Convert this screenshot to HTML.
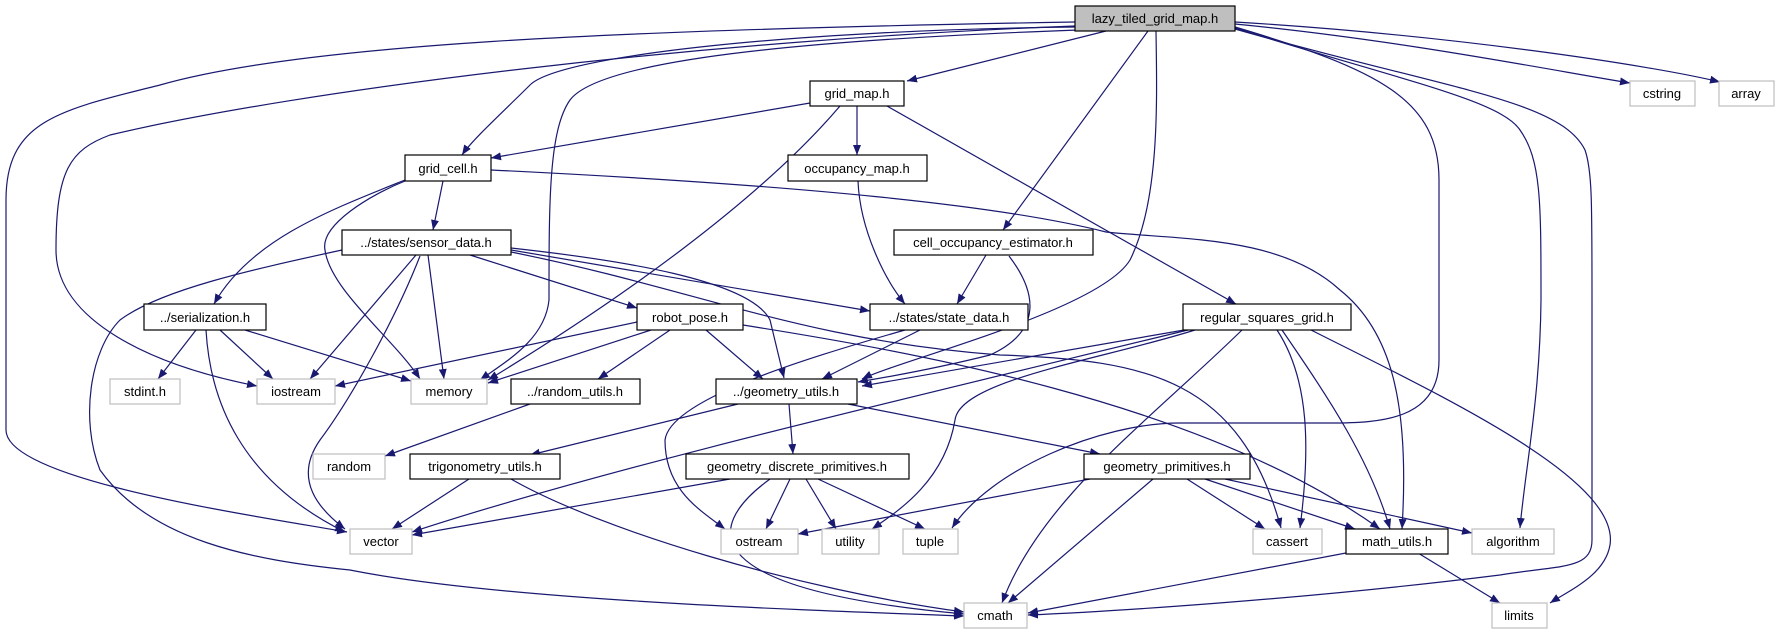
<!DOCTYPE html>
<html><head><meta charset="utf-8"><style>
html,body{margin:0;padding:0;background:#fff;}
svg{display:block;}
text{font-family:"Liberation Sans","DejaVu Sans",sans-serif;font-size:13px;fill:#000;}
.e{fill:none;stroke:#191970;stroke-width:1.2;marker-end:url(#a);}
.n{fill:#fff;stroke:#000;stroke-width:1.2;}
.g{fill:#fff;stroke:#bfbfbf;stroke-width:1.2;}
</style></head><body>
<svg width="1778" height="635" viewBox="0 0 1778 635" xmlns="http://www.w3.org/2000/svg">
<defs><marker id="a" markerWidth="10" markerHeight="8" refX="10" refY="4" orient="auto" markerUnits="userSpaceOnUse"><path d="M0,0 L10,4 L0,8 z" fill="#191970"/></marker></defs>
<g>
<path class="e" d="M1075,22 C600,30 300,45 160,85 C60,110 6,120 6,200 L6,430 C6,480 250,515 347,532"/>
<path class="e" d="M1075,26 C700,40 300,90 110,135 C70,150 56,170 56,250 C56,320 150,365 257,386"/>
<path class="e" d="M1075,27 C800,30 560,55 530,85 C505,110 472,140 462,155"/>
<path class="e" d="M1078,30 C800,40 600,60 570,100 C549,130 549,200 549,300 C545,340 505,362 480,380"/>
<path class="e" d="M1106,31 L907,81"/>
<path class="e" d="M1148,31 L1003,230"/>
<path class="e" d="M1156,31 C1157,100 1160,200 1130,260 C1100,310 900,360 862,379"/>
<path class="e" d="M1235,24 C1400,40 1550,70 1630,83"/>
<path class="e" d="M1235,22 C1450,35 1650,65 1720,82"/>
<path class="e" d="M1235,27 C1380,70 1439,100 1439,180 L1439,360 C1439,420 1380,423 1330,423 L1180,423 C1100,423 990,470 952,528"/>
<path class="e" d="M1235,28 C1400,80 1500,100 1520,130 C1541,160 1541,200 1541,300 C1540,400 1525,470 1520,528"/>
<path class="e" d="M1235,29 C1450,90 1560,100 1585,150 C1592,170 1592,200 1592,300 L1592,540 C1592,570 1560,565 1500,575 C1300,600 1100,612 1028,615"/>
<path class="e" d="M491,170 C800,185 1000,205 1106,232 C1180,240 1280,235 1340,290 C1390,330 1410,400 1402,529"/>
<path class="e" d="M810,103 L491,158"/>
<path class="e" d="M857,106 L857,155"/>
<path class="e" d="M840,106 C760,200 620,300 488,380"/>
<path class="e" d="M887,106 L1236,304"/>
<path class="e" d="M443,181 L433,230"/>
<path class="e" d="M405,180 C330,210 250,240 214,304"/>
<path class="e" d="M405,181 C370,195 320,225 325,250 C330,290 395,340 420,379"/>
<path class="e" d="M858,181 C860,230 885,280 905,304"/>
<path class="e" d="M986,255 L957,304"/>
<path class="e" d="M1009,256 C1035,290 1045,330 990,355 C950,365 900,375 858,382"/>
<path class="e" d="M342,250 C250,270 160,290 120,320 C90,350 80,420 100,470 C150,540 250,560 350,570 C500,600 800,610 964,616"/>
<path class="e" d="M416,255 L310,379"/>
<path class="e" d="M428,255 L444,379"/>
<path class="e" d="M420,256 C395,320 350,400 320,440 C292,480 320,510 345,529"/>
<path class="e" d="M470,255 L637,308"/>
<path class="e" d="M511,250 L870,311"/>
<path class="e" d="M511,248 C620,260 750,280 770,320 L784,378"/>
<path class="e" d="M511,252 C700,290 800,340 1000,355 C1150,360 1240,380 1281,528"/>
<path class="e" d="M196,330 L158,379"/>
<path class="e" d="M220,330 L273,379"/>
<path class="e" d="M245,330 L411,381"/>
<path class="e" d="M206,330 C210,400 240,480 345,532"/>
<path class="e" d="M637,322 L335,386"/>
<path class="e" d="M651,330 L488,383"/>
<path class="e" d="M670,330 L598,379"/>
<path class="e" d="M706,330 L763,379"/>
<path class="e" d="M743,325 C900,350 1200,400 1380,529"/>
<path class="e" d="M920,330 L822,379"/>
<path class="e" d="M905,330 C800,360 670,400 665,440 C665,490 700,510 725,529"/>
<path class="e" d="M1190,329 L862,386"/>
<path class="e" d="M1188,330 C900,400 600,470 412,532"/>
<path class="e" d="M1195,330 C1100,360 960,380 955,420 C945,480 900,510 872,529"/>
<path class="e" d="M1242,330 C1150,420 1040,500 1002,603"/>
<path class="e" d="M1277,330 C1310,380 1310,450 1300,528"/>
<path class="e" d="M1282,330 C1330,400 1370,460 1390,529"/>
<path class="e" d="M1311,330 C1450,400 1620,480 1610,545 C1605,575 1570,590 1550,603"/>
<path class="e" d="M530,404 L385,456"/>
<path class="e" d="M738,404 L530,455"/>
<path class="e" d="M789,404 L793,454"/>
<path class="e" d="M848,404 L1100,454"/>
<path class="e" d="M469,479 L392,529"/>
<path class="e" d="M511,479 C600,530 800,590 964,612"/>
<path class="e" d="M730,479 L412,535"/>
<path class="e" d="M790,479 L766,529"/>
<path class="e" d="M806,479 L836,529"/>
<path class="e" d="M818,479 L925,529"/>
<path class="e" d="M770,479 C700,530 700,590 964,614"/>
<path class="e" d="M1090,479 L798,534"/>
<path class="e" d="M1153,479 L1008,603"/>
<path class="e" d="M1187,479 L1265,529"/>
<path class="e" d="M1205,479 L1355,529"/>
<path class="e" d="M1225,479 L1472,533"/>
<path class="e" d="M1346,553 L1028,613"/>
<path class="e" d="M1418,553 L1500,603"/>
</g>
<g text-anchor="middle">
<rect x="1075" y="6" width="160" height="25" fill="#bfbfbf" stroke="#000" stroke-width="1.2"/><text x="1155" y="23">lazy_tiled_grid_map.h</text>
<rect class="n" x="810" y="81" width="94" height="25"/><text x="857" y="98">grid_map.h</text>
<rect class="g" x="1630" y="81" width="65" height="25"/><text x="1662" y="98">cstring</text>
<rect class="g" x="1719" y="81" width="55" height="25"/><text x="1746" y="98">array</text>
<rect class="n" x="405" y="155" width="86" height="26"/><text x="448" y="173">grid_cell.h</text>
<rect class="n" x="788" y="155" width="139" height="26"/><text x="857" y="173">occupancy_map.h</text>
<rect class="n" x="894" y="230" width="199" height="25"/><text x="993" y="247">cell_occupancy_estimator.h</text>
<rect class="n" x="342" y="230" width="169" height="25"/><text x="426" y="247">../states/sensor_data.h</text>
<rect class="n" x="144" y="304" width="122" height="26"/><text x="205" y="322">../serialization.h</text>
<rect class="n" x="637" y="304" width="106" height="26"/><text x="690" y="322">robot_pose.h</text>
<rect class="n" x="870" y="304" width="158" height="26"/><text x="949" y="322">../states/state_data.h</text>
<rect class="n" x="1183" y="304" width="168" height="26"/><text x="1267" y="322">regular_squares_grid.h</text>
<rect class="g" x="110" y="379" width="70" height="25"/><text x="145" y="396">stdint.h</text>
<rect class="g" x="257" y="379" width="78" height="25"/><text x="296" y="396">iostream</text>
<rect class="g" x="411" y="379" width="76" height="25"/><text x="449" y="396">memory</text>
<rect class="n" x="511" y="379" width="129" height="25"/><text x="575" y="396">../random_utils.h</text>
<rect class="n" x="716" y="379" width="141" height="25"/><text x="786" y="396">../geometry_utils.h</text>
<rect class="g" x="313" y="454" width="72" height="25"/><text x="349" y="471">random</text>
<rect class="n" x="410" y="454" width="150" height="25"/><text x="485" y="471">trigonometry_utils.h</text>
<rect class="n" x="686" y="454" width="223" height="25"/><text x="797" y="471">geometry_discrete_primitives.h</text>
<rect class="n" x="1084" y="454" width="166" height="25"/><text x="1167" y="471">geometry_primitives.h</text>
<rect class="g" x="350" y="529" width="62" height="25"/><text x="381" y="546">vector</text>
<rect class="g" x="721" y="529" width="77" height="25"/><text x="759" y="546">ostream</text>
<rect class="g" x="822" y="529" width="57" height="25"/><text x="850" y="546">utility</text>
<rect class="g" x="903" y="529" width="55" height="25"/><text x="930" y="546">tuple</text>
<rect class="g" x="1253" y="529" width="69" height="25"/><text x="1287" y="546">cassert</text>
<rect class="n" x="1346" y="529" width="102" height="25"/><text x="1397" y="546">math_utils.h</text>
<rect class="g" x="1472" y="529" width="82" height="25"/><text x="1513" y="546">algorithm</text>
<rect class="g" x="964" y="603" width="63" height="25"/><text x="995" y="620">cmath</text>
<rect class="g" x="1492" y="603" width="55" height="25"/><text x="1519" y="620">limits</text>
</g>
</svg>
</body></html>
